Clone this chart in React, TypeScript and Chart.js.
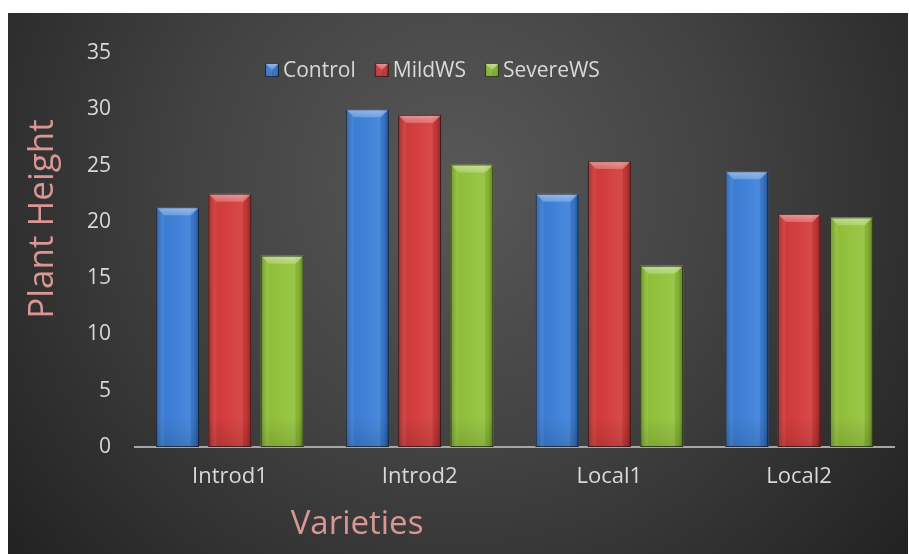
import React, { useEffect, useRef } from 'react';
import { Chart, registerables } from 'chart.js';

Chart.register(...registerables);

const categories = ['Introd1', 'Introd2', 'Local1', 'Local2'];
const seriesNames = ['Control', 'MildWS', 'SevereWS'];
const controlValues = [21.3, 30.0, 22.5, 24.5];
const mildValues = [22.5, 29.5, 25.4, 20.7];
const severeValues = [17.0, 25.1, 16.1, 20.4];
const yMin = 0;
const yMax = 35;
const yStep = 5;
const xTitle = 'Varieties';
const yTitle = 'Plant Height';

const seriesColors = ['#3c7fd8', '#d43b3b', '#92c23a'];
const FONT = '"Open Sans", "DejaVu Sans", sans-serif';
const TEXT = '#d9d9d9';
const TITLE = '#d99694';

function bevelRect(ctx: CanvasRenderingContext2D, left: number, top: number, right: number, bottom: number, color: string) {
  const w = right - left;
  const h = bottom - top;
  if (w <= 0 || h <= 0) return;
  ctx.save();
  ctx.fillStyle = color;
  ctx.fillRect(left, top, w, h);
  const g = ctx.createLinearGradient(left, 0, right, 0);
  g.addColorStop(0, 'rgba(0,0,0,0.28)');
  g.addColorStop(0.14, 'rgba(0,0,0,0.02)');
  g.addColorStop(0.55, 'rgba(255,255,255,0.04)');
  g.addColorStop(0.78, 'rgba(255,255,255,0.08)');
  g.addColorStop(0.88, 'rgba(0,0,0,0.02)');
  g.addColorStop(1, 'rgba(0,0,0,0.3)');
  ctx.fillStyle = g;
  ctx.fillRect(left, top, w, h);
  const vg = ctx.createLinearGradient(0, top, 0, bottom);
  vg.addColorStop(0, 'rgba(0,0,0,0)');
  vg.addColorStop(Math.max(0, 1 - 30 / h), 'rgba(0,0,0,0)');
  vg.addColorStop(1, 'rgba(0,0,0,0.12)');
  ctx.fillStyle = vg;
  ctx.fillRect(left, top, w, h);
  const b = Math.min(8, w / 2, h / 2);
  const tg = ctx.createLinearGradient(0, top, 0, top + b);
  tg.addColorStop(0, 'rgba(255,255,255,0.45)');
  tg.addColorStop(1, 'rgba(255,255,255,0.22)');
  ctx.beginPath();
  ctx.moveTo(left, top);
  ctx.lineTo(right, top);
  ctx.lineTo(right - b, top + b);
  ctx.lineTo(left + b, top + b);
  ctx.closePath();
  ctx.fillStyle = tg;
  ctx.fill();
  ctx.beginPath();
  ctx.moveTo(left, top);
  ctx.lineTo(left + b, top + b);
  ctx.lineTo(left + b, bottom);
  ctx.lineTo(left, bottom);
  ctx.closePath();
  ctx.fillStyle = 'rgba(255,255,255,0.06)';
  ctx.fill();
  ctx.beginPath();
  ctx.moveTo(right, top);
  ctx.lineTo(right - b, top + b);
  ctx.lineTo(right - b, bottom);
  ctx.lineTo(right, bottom);
  ctx.closePath();
  ctx.fillStyle = 'rgba(0,0,0,0.06)';
  ctx.fill();
  ctx.strokeStyle = 'rgba(20,20,20,0.7)';
  ctx.lineWidth = 1;
  ctx.strokeRect(left + 0.5, top + 0.5, w - 1, h - 1);
  ctx.restore();
}

const decorPlugin = {
  id: 'decor',
  beforeDraw(chart: any) {
    const { ctx, width, height } = chart;
    ctx.save();
    const g = ctx.createRadialGradient(450, 170, 0, 450, 170, 600);
    g.addColorStop(0, '#585858');
    g.addColorStop(0.45, '#424242');
    g.addColorStop(1, '#202020');
    ctx.fillStyle = g;
    ctx.fillRect(0, 0, width, height);
    ctx.restore();
  },
  afterDatasetsDraw(chart: any) {
    const ctx = chart.ctx;
    chart.data.datasets.forEach((ds: any, i: number) => {
      const meta = chart.getDatasetMeta(i);
      meta.data.forEach((el: any) => {
        const p = el.getProps(['x', 'y', 'base', 'width'], true);
        bevelRect(ctx, p.x - p.width / 2, p.y, p.x + p.width / 2, p.base, ds.backgroundColor);
      });
    });
  },
  afterDraw(chart: any) {
    const { ctx } = chart;
    ctx.save();
    // legend
    ctx.font = `21px ${FONT}`;
    ctx.textBaseline = 'middle';
    let x = 257;
    const ly = 57;
    chart.data.datasets.forEach((ds: any) => {
      bevelRect(ctx, x, ly - 7, x + 14, ly + 7, ds.backgroundColor);
      x += 18;
      ctx.fillStyle = TEXT;
      ctx.textAlign = 'left';
      ctx.fillText(ds.label, x, ly + 1);
      x += ctx.measureText(ds.label).width + 19;
    });
    // axis titles
    ctx.fillStyle = TITLE;
    ctx.font = `33px ${FONT}`;
    ctx.textAlign = 'center';
    ctx.textBaseline = 'middle';
    ctx.fillText(xTitle, 349, 512);
    ctx.font = `35px ${FONT}`;
    ctx.translate(35, 206);
    ctx.rotate(-Math.PI / 2);
    ctx.fillText(yTitle, 0, 0);
    ctx.restore();
  },
};

export default function App() {
  const ref = useRef<HTMLCanvasElement | null>(null);
  useEffect(() => {
    if (!ref.current) return;
    const chart = new Chart(ref.current, {
      type: 'bar',
      data: {
        labels: categories,
        datasets: [controlValues, mildValues, severeValues].map((vals, i) => ({
          label: seriesNames[i],
          data: vals,
          backgroundColor: seriesColors[i],
          borderWidth: 0,
          barPercentage: 0.82,
          categoryPercentage: 0.827,
        })),
      },
      options: {
        animation: false,
        responsive: true,
        maintainAspectRatio: false,
        layout: { padding: { top: 40, right: 14, left: 0, bottom: 0 } },
        plugins: {
          legend: { display: false },
          tooltip: { enabled: false },
          title: { display: false },
        },
        scales: {
          x: {
            grid: { display: false, drawTicks: false },
            border: { display: true, color: '#a6a6a6', width: 2 },
            ticks: { color: TEXT, font: { family: FONT, size: 22 }, padding: 17 },
            afterFit: (s: any) => { s.height = 107; },
          },
          y: {
            min: yMin,
            max: yMax,
            grid: { display: false, drawTicks: false },
            border: { display: false },
            ticks: { stepSize: yStep, color: TEXT, font: { family: FONT, size: 21 }, padding: 24 },
            afterFit: (s: any) => { s.width = 127; },
          },
        },
      },
      plugins: [decorPlugin],
    } as any);
    return () => chart.destroy();
  }, []);
  return (
    <div style={{ position: 'absolute', left: 8, top: 13, width: 900, height: 541 }}>
      <canvas ref={ref} />
    </div>
  );
}
